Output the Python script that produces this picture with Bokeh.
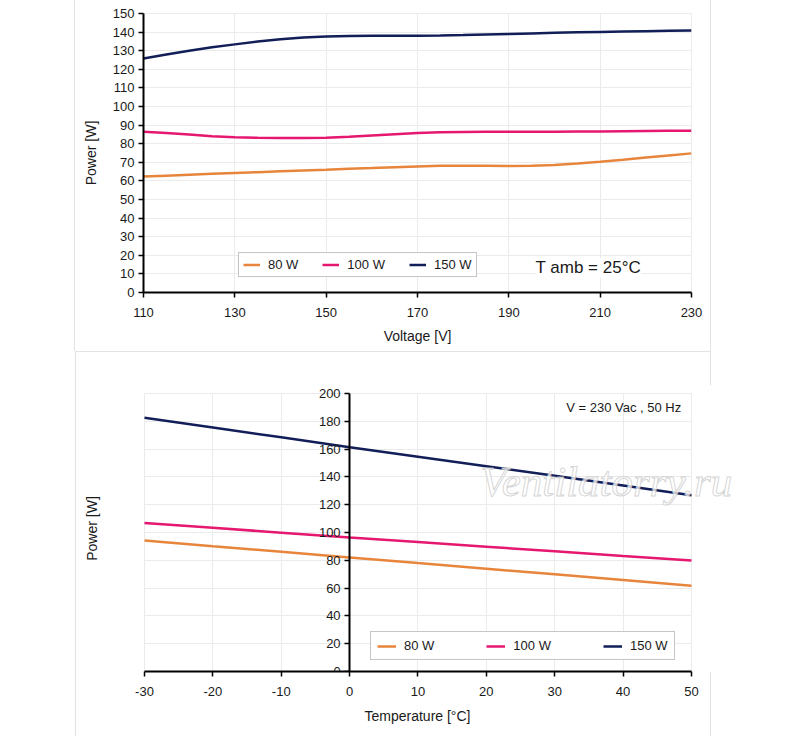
from bokeh.plotting import figure
from bokeh.models import Range1d, FixedTicker, LinearAxis, Legend, LegendItem, Label
from bokeh.embed import file_html
from bokeh.resources import INLINE

# power vs supply voltage, T amb = 25 C
volt = [110, 115, 120, 125, 130, 135, 140, 145, 150, 155, 160, 165, 170,
        175, 180, 185, 190, 195, 200, 205, 210, 215, 220, 225, 230]
v_80w = [62.3, 62.8, 63.3, 63.8, 64.3, 64.7, 65.2, 65.6, 66.0, 66.5, 66.9, 67.4, 67.8,
         68.1, 68.2, 68.1, 68.0, 68.1, 68.5, 69.3, 70.3, 71.4, 72.6, 73.7, 74.8]
v_100w = [86.4, 85.8, 84.9, 84.0, 83.5, 83.2, 83.0, 83.0, 83.2, 83.7, 84.4, 85.1, 85.7,
          86.1, 86.3, 86.4, 86.4, 86.4, 86.4, 86.5, 86.6, 86.7, 86.8, 86.9, 87.0]
v_150w = [125.8, 128.0, 130.0, 131.8, 133.4, 134.9, 136.2, 137.1, 137.6, 137.9, 138.0, 138.0, 138.1,
          138.2, 138.4, 138.7, 139.0, 139.3, 139.6, 139.9, 140.1, 140.3, 140.5, 140.7, 140.9]
volt_ticks = [110, 130, 150, 170, 190, 210, 230]
pw1_ticks = list(range(0, 151, 10))

# power vs ambient temperature, V = 230 Vac 50 Hz
temp = [-30, -20, -10, 0, 10, 20, 30, 40, 50]
t_80w = [94.3, 90.2, 86.2, 82.1, 78.0, 74.0, 69.9, 65.8, 61.7]
t_100w = [106.9, 103.4, 99.9, 96.4, 93.1, 89.8, 86.5, 83.1, 79.8]
t_150w = [182.6, 175.6, 168.5, 161.4, 154.5, 147.7, 140.8, 133.9, 126.9]
temp_ticks = list(range(-30, 51, 10))
pw2_ticks = list(range(0, 201, 20))

series = ["80 W", "100 W", "150 W"]
colors = ["#E8853D", "#E5176F", "#111E58"]

FONT = "Liberation Sans"
GRID = "#ebebeb"
PANEL = "#e2e2e2"


def panel_lines(*boxes):
    # thin light frames of the original screenshot, drawn behind the canvas
    grads = ", ".join([f"linear-gradient({PANEL},{PANEL})"] * len(boxes))
    return {
        "background-image": grads,
        "background-size": ", ".join(b[0] for b in boxes),
        "background-position": ", ".join(b[1] for b in boxes),
        "background-repeat": "no-repeat",
    }


def style_axis(ax, ticks):
    ax.ticker = FixedTicker(ticks=ticks)
    ax.major_label_overrides = {t: str(t) for t in ticks}
    ax.axis_line_color = "black"
    ax.axis_line_width = 2
    ax.major_tick_line_color = "black"
    ax.major_tick_line_width = 1.5
    ax.major_tick_in = 0
    ax.major_tick_out = 5
    ax.minor_tick_line_color = None
    ax.major_label_text_font = FONT
    ax.major_label_text_font_size = "13px"
    ax.major_label_text_color = "#1a1a1a"
    ax.axis_label_text_font = FONT
    ax.axis_label_text_font_size = "14px"
    ax.axis_label_text_font_style = "normal"
    ax.axis_label_text_color = "#1a1a1a"


def make_legend(p, renderers, x, y, padding, spacing, glyph_w, label_h):
    items = [LegendItem(label=s, renderers=[r]) for s, r in zip(series, renderers)]
    leg = Legend(items=items, orientation="horizontal", location=(x, y))
    leg.padding = padding
    leg.spacing = spacing
    leg.margin = 0
    leg.glyph_width = glyph_w
    leg.glyph_height = label_h
    leg.label_height = label_h
    leg.label_standoff = 8
    leg.label_text_font = FONT
    leg.label_text_font_size = "13px"
    leg.label_text_color = "#1a1a1a"
    leg.border_line_color = "#8c8c8c"
    leg.border_line_width = 1
    leg.background_fill_color = "white"
    leg.background_fill_alpha = 1.0
    p.add_layout(leg, "center")


# ---------- top chart ----------
p1 = figure(width=800, height=351, x_range=Range1d(110, 230), y_range=Range1d(0, 150),
            output_backend="svg", toolbar_location=None,
            min_border_left=143, min_border_right=109, min_border_top=13, min_border_bottom=59)
p1.outline_line_color = GRID
p1.background_fill_color = "white"
p1.border_fill_alpha = 0
p1.styles = panel_lines(("1px 100%", "74px 0px"), ("1px 100%", "710px 0px"))
style_axis(p1.xaxis[0], volt_ticks)
style_axis(p1.yaxis[0], pw1_ticks)
p1.xaxis.major_label_standoff = 10
p1.xaxis.axis_label = "Voltage [V]"
p1.xaxis.axis_label_standoff = 8
p1.yaxis.major_label_standoff = 4
p1.yaxis.axis_label = "Power [W]"
p1.yaxis.axis_label_standoff = 11
p1.xgrid.ticker = FixedTicker(ticks=volt_ticks)
p1.ygrid.ticker = FixedTicker(ticks=pw1_ticks)
p1.xgrid.grid_line_color = GRID
p1.ygrid.grid_line_color = GRID

r1 = [p1.line(volt, ys, line_color=c, line_width=2.5)
      for ys, c in zip([v_80w, v_100w, v_150w], colors)]
make_legend(p1, r1, 95, 15, 4, 24, 17, 13)

p1.add_layout(Label(x=207.4, y=13.3, text="T amb = 25°C", text_align="center",
                    text_baseline="middle", text_font=FONT, text_font_size="17px",
                    text_color="#1a1a1a", background_fill_color="white"))

# ---------- bottom chart ----------
# the frame is wider than -30..50 on both sides, so the watermark is not cut
# and the axis title stays centred; grid and axis lines stop at the data limits
p2 = figure(width=800, height=385, x_range=Range1d(-36.58, 56.44), y_range=Range1d(0, 205.8),
            output_backend="svg", toolbar_location=None,
            min_border_left=99, min_border_right=65, min_border_top=34, min_border_bottom=65)
p2.outline_line_color = None
p2.background_fill_color = "white"
p2.border_fill_alpha = 0
p2.styles = panel_lines(("1px 100%", "75px 0px"), ("1px 100%", "710px 0px"),
                        ("636px 1px", "75px 0px"))
style_axis(p2.xaxis[0], temp_ticks)
p2.xaxis.bounds = (temp_ticks[0], temp_ticks[-1])
p2.xaxis.major_label_standoff = 10
p2.xaxis.axis_label = "Temperature [°C]"
p2.xaxis.axis_label_standoff = 9

# the left axis only carries the title; the scale sits on x = 0
yl = p2.yaxis[0]
yl.ticker = FixedTicker(ticks=[])
yl.axis_line_color = None
yl.major_tick_line_color = None
yl.minor_tick_line_color = None
yl.major_tick_out = 0
yl.major_label_standoff = 0
yl.axis_label = "Power [W]"
yl.axis_label_text_font = FONT
yl.axis_label_text_font_size = "14px"
yl.axis_label_text_font_style = "normal"
yl.axis_label_text_color = "#1a1a1a"
yl.axis_label_standoff = 0

y0 = LinearAxis(fixed_location=0)
style_axis(y0, pw2_ticks)
y0.bounds = (pw2_ticks[0], pw2_ticks[-1])
y0.major_label_standoff = 4
p2.add_layout(y0, "left")

p2.xgrid.ticker = FixedTicker(ticks=temp_ticks)
p2.ygrid.ticker = FixedTicker(ticks=pw2_ticks)
p2.xgrid.cross_bounds = (pw2_ticks[0], pw2_ticks[-1])
p2.ygrid.cross_bounds = (temp_ticks[0], temp_ticks[-1])
p2.xgrid.grid_line_color = GRID
p2.ygrid.grid_line_color = GRID

r2 = [p2.line(temp, ys, line_color=c, line_width=2.5)
      for ys, c in zip([t_80w, t_100w, t_150w], colors)]
make_legend(p2, r2, 271, 11, 6, 52, 19, 14)

p2.add_layout(Label(x=48.5, y=190, text="V = 230 Vac , 50 Hz", text_align="right",
                    text_baseline="middle", text_font=FONT, text_font_size="13px",
                    text_color="#1a1a1a"))
p2.add_layout(Label(x=19.1, y=136.4, text="Ventilatorry.ru", text_align="left",
                    text_baseline="alphabetic", text_font="Liberation Serif",
                    text_font_style="italic", text_font_size="43px",
                    text_color="white", text_alpha=0.75,
                    text_outline_color="#c8c8c8"))

# two separate roots, so Bokeh does not line up the two frames
open("out.html", "w").write(file_html([p1, p2], INLINE))
